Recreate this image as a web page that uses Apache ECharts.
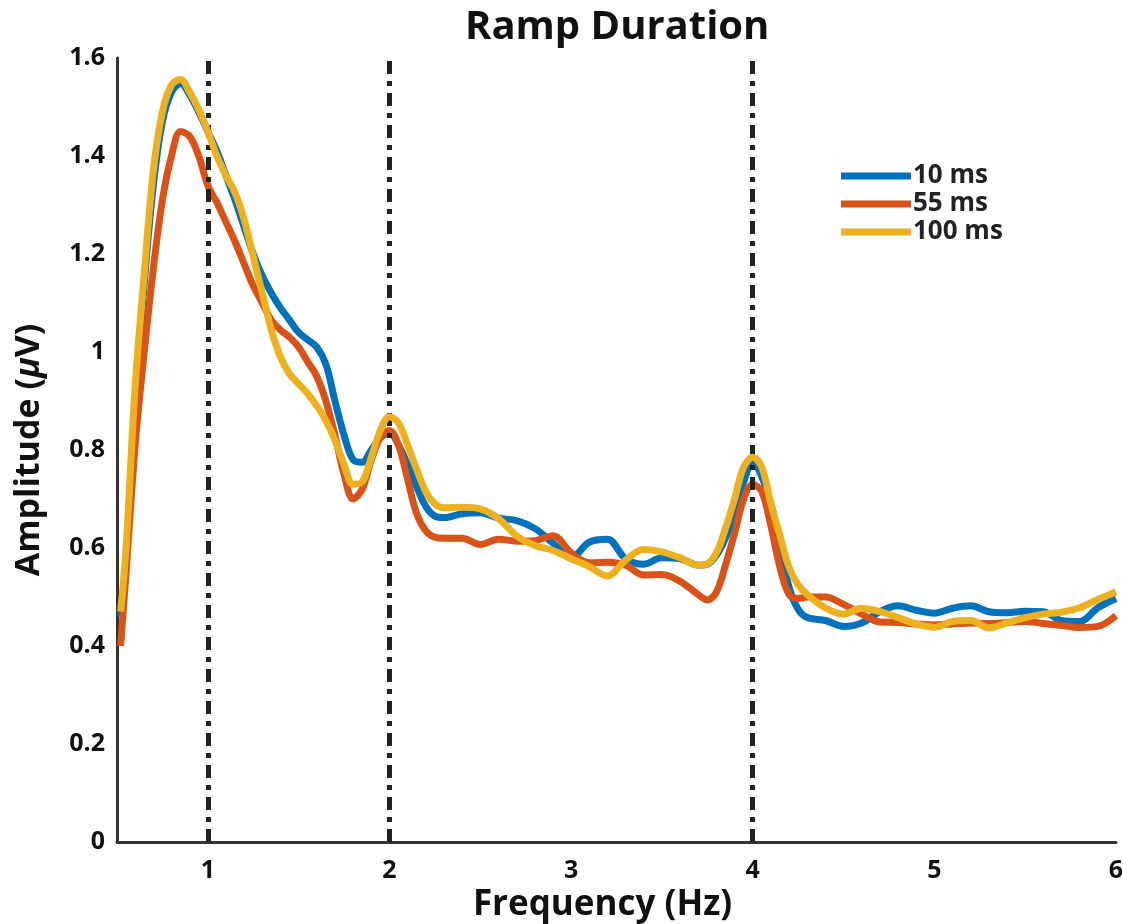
<!DOCTYPE html>
<html>
<head>
<meta charset="utf-8">
<script src="https://cdn.jsdelivr.net/npm/echarts@6/dist/echarts.min.js"></script>
<style>
  html, body { margin: 0; padding: 0; background: #fff; }
  #chart { width: 1123px; height: 924px; }
</style>
</head>
<body>
<div id="chart"></div>
<script>
// frequency samples (Hz), shared by all three curves
var freqs = [0.52, 0.55, 0.6, 0.65, 0.7, 0.75, 0.8, 0.85, 0.9, 0.95,
  1.0, 1.05, 1.1, 1.15, 1.2, 1.25, 1.3, 1.35, 1.4, 1.45, 1.5, 1.55, 1.6, 1.65, 1.7, 1.75, 1.8, 1.85, 1.9, 1.95,
  2.0, 2.05, 2.1, 2.15, 2.2, 2.25, 2.3,
  2.4, 2.5, 2.6, 2.7, 2.8, 2.9, 3.0, 3.1, 3.2, 3.3, 3.4, 3.5, 3.6, 3.7,
  3.75, 3.8, 3.85, 3.9, 3.95, 4.0, 4.05, 4.1, 4.15, 4.2, 4.25, 4.3,
  4.4, 4.5, 4.6, 4.7, 4.8, 4.9, 5.0, 5.1, 5.2, 5.3, 5.4, 5.5, 5.6, 5.7, 5.8, 5.9, 6.0];

var amp10 = [0.46, 0.58, 0.9, 1.14, 1.34, 1.47, 1.53, 1.548, 1.525, 1.49,
  1.45, 1.41, 1.36, 1.31, 1.255, 1.2, 1.155, 1.12, 1.09, 1.065, 1.04, 1.025, 1.01, 0.975, 0.9, 0.83, 0.78, 0.775, 0.8, 0.825,
  0.835, 0.81, 0.77, 0.725, 0.685, 0.665, 0.662,
  0.67, 0.672, 0.661, 0.656, 0.64, 0.61, 0.58, 0.612, 0.618, 0.578, 0.567, 0.58, 0.578, 0.565,
  0.567, 0.585, 0.62, 0.67, 0.735, 0.775, 0.745, 0.69, 0.61, 0.52, 0.475, 0.458,
  0.452, 0.44, 0.447, 0.47, 0.482, 0.473, 0.467, 0.477, 0.482, 0.47, 0.468, 0.471, 0.47, 0.452, 0.45, 0.478, 0.497];

var amp55 = [0.4, 0.55, 0.81, 1.0, 1.17, 1.31, 1.4, 1.45, 1.44, 1.4,
  1.34, 1.305, 1.265, 1.225, 1.18, 1.135, 1.1, 1.065, 1.045, 1.03, 1.01, 0.98, 0.95, 0.9, 0.83, 0.75, 0.7, 0.72, 0.78, 0.825,
  0.84, 0.81, 0.74, 0.67, 0.635, 0.622, 0.62,
  0.62, 0.607, 0.618, 0.614, 0.615, 0.625, 0.59, 0.57, 0.571, 0.565, 0.545, 0.546, 0.532, 0.505,
  0.494, 0.51, 0.565, 0.63, 0.7, 0.73, 0.715, 0.645, 0.56, 0.505, 0.497, 0.5,
  0.5, 0.485, 0.465, 0.449, 0.448, 0.445, 0.443, 0.445, 0.447, 0.446, 0.448, 0.45, 0.446, 0.442, 0.438, 0.44, 0.462];

var amp100 = [0.47, 0.6, 0.93, 1.16, 1.37, 1.49, 1.545, 1.556, 1.53, 1.495,
  1.45, 1.4, 1.36, 1.325, 1.27, 1.195, 1.12, 1.045, 0.99, 0.955, 0.935, 0.915, 0.89, 0.86, 0.82, 0.77, 0.73, 0.735, 0.785, 0.84,
  0.868, 0.855, 0.81, 0.76, 0.715, 0.69, 0.682,
  0.683, 0.68, 0.66, 0.625, 0.605, 0.595, 0.578, 0.562, 0.543, 0.575, 0.597, 0.592, 0.58, 0.565,
  0.568, 0.59, 0.64, 0.7, 0.765, 0.785, 0.765, 0.69, 0.625, 0.56, 0.525, 0.505,
  0.478, 0.465, 0.477, 0.47, 0.458, 0.445, 0.438, 0.45, 0.452, 0.437, 0.447, 0.458, 0.465, 0.469, 0.478, 0.495, 0.51];

var seriesNames = ['10 ms', '55 ms', '100 ms'];
var seriesColors = ['#0072BD', '#D95319', '#EDB120'];
var markFreqs = [1, 2, 4];

var font = 'Open Sans';

function pairs(vals) {
  return freqs.map(function (f, i) { return [f, vals[i]]; });
}

var chart = echarts.init(document.getElementById('chart'));
var allData = [amp10, amp55, amp100];

var series = allData.map(function (vals, i) {
  var s = {
    name: seriesNames[i],
    type: 'line',
    data: pairs(vals),
    smooth: 0.35,
    showSymbol: false,
    symbol: 'none',
    lineStyle: { width: 7, color: seriesColors[i] },
    itemStyle: { color: seriesColors[i] },
    z: 3 + i
  };
  if (i === 0) {
    s.markLine = {
      silent: true,
      symbol: ['none', 'none'],
      label: { show: false },
      emphasis: { disabled: true },
      lineStyle: { color: '#222', width: 5, type: [13, 7, 5, 7] },
      data: markFreqs.map(function (f) { return { xAxis: f }; })
    };
  }
  return s;
});

var tickText = {
  fontFamily: font, fontWeight: 'bold', fontSize: 25, color: '#111'
};

var option = {
  animation: false,
  title: {
    text: 'Ramp Duration',
    left: 460,
    top: 3,
    textStyle: { fontFamily: font, fontWeight: 'bold', fontSize: 40, color: '#111' }
  },
  legend: {
    orient: 'vertical',
    left: 836,
    top: 158,
    icon: 'rect',
    itemWidth: 70,
    itemHeight: 7,
    itemGap: 2,
    data: seriesNames,
    textStyle: { fontFamily: font, fontWeight: 'bold', fontSize: 26, color: '#222', lineHeight: 26, padding: [0, 0, 0, -3] }
  },
  grid: { left: 117, right: 7, top: 58, bottom: 82, outerBoundsMode: 'none', containLabel: false },
  xAxis: {
    type: 'value',
    min: 0.5,
    max: 6,
    interval: 0.5,
    name: 'Frequency (Hz)',
    nameLocation: 'middle',
    nameGap: 42,
    nameTextStyle: { fontFamily: font, fontWeight: 'bold', fontSize: 35, color: '#111', padding: [0, 28, 0, 0] },
    axisLine: { lineStyle: { color: '#333', width: 3 } },
    axisTick: { show: false },
    splitLine: { show: false },
    axisLabel: {
      margin: 16,
      fontFamily: tickText.fontFamily, fontWeight: tickText.fontWeight, fontSize: tickText.fontSize, color: tickText.color,
      formatter: function (v) { return Number.isInteger(v) ? String(v) : ''; }
    }
  },
  yAxis: {
    type: 'value',
    min: 0,
    max: 1.6,
    interval: 0.2,
    name: '{n|Amplitude (}{m|μ}{n|V)}',
    nameLocation: 'middle',
    nameGap: 71,
    nameTextStyle: {
      rich: {
        n: { fontFamily: font, fontWeight: 'bold', fontSize: 34, color: '#111' },
        m: { fontFamily: font, fontWeight: 'bold', fontStyle: 'italic', fontSize: 34, color: '#111' }
      }
    },
    axisLine: { show: true, lineStyle: { color: '#333', width: 3 } },
    axisTick: { show: false },
    splitLine: { show: false },
    axisLabel: {
      margin: 12,
      fontFamily: tickText.fontFamily, fontWeight: tickText.fontWeight, fontSize: tickText.fontSize, color: tickText.color,
      formatter: function (v) { return String(Math.round(v * 10) / 10); }
    }
  },
  series: series
};

chart.setOption(option);
</script>
</body>
</html>
